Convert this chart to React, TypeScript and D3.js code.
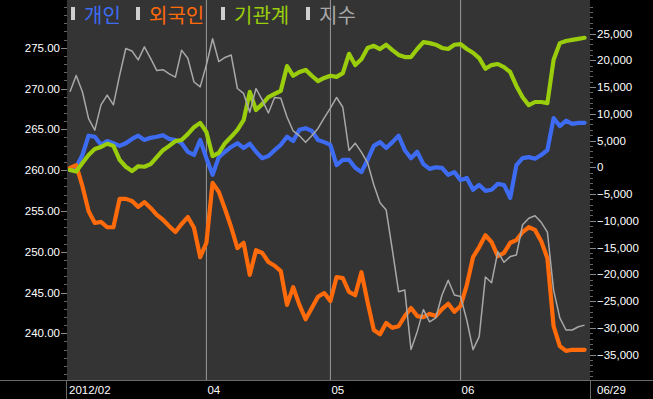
import React from "react";
import * as d3 from "d3";

// 지수 (KOSPI200) on left axis, net-buy amounts on right axis
const indexValues = [
  269.6, 271.6, 269.6, 266.3, 264.9, 268.0, 269.2, 268.0, 271.6, 274.9,
  274.6, 273.5, 275.1, 273.7, 272.2, 272.3, 271.8, 271.4, 274.7, 273.7,
  270.8, 270.2, 272.9, 276.1, 273.3, 273.8, 274.1, 270.0, 269.4, 267.1,
  270.0, 268.6, 267.0, 268.9, 268.8, 266.5, 264.8, 264.2, 263.4, 264.2,
  265.1, 266.4, 267.6, 268.9, 267.7, 262.4, 263.3, 262.2, 260.9, 258.2,
  256.0, 255.1, 250.2, 245.1, 245.3, 238.0, 240.2, 242.9, 241.4, 241.9,
  244.7, 246.5, 244.7, 244.5, 241.6, 238.0, 239.6, 246.9, 246.2, 250.0,
  248.7, 249.4, 249.6, 253.3, 254.1, 254.4, 253.6, 252.4, 245.3, 241.9,
  240.4, 240.4, 240.8, 241.0,
];

const individual = [
  -500, 0, 2300, 5900, 5700, 4200, 4900, 4500, 4000, 4500,
  5300, 5900, 5100, 5500, 5700, 6000, 5300, 5100, 4500, 2900,
  2300, 5100, 1700, -1400, 1900, 2900, 3800, 4500, 3600, 4400,
  2900, 1700, 2100, 3200, 4200, 5700, 4900, 7000, 7300, 6800,
  5100, 4700, 4200, 400, 1400, 1400, -100, -900, 1400, 4000,
  4700, 3600, 4700, 5900, 3200, 1700, 2900, 600, -300, 0,
  -100, -1400, -900, -2400, -2000, -4200, -3300, -4400, -4200, -3100,
  -3300, -5700, 400, 1700, 1900, 1600, 2300, 3200, 9200, 7700,
  8700, 8100, 8300, 8300,
];

const foreign = [
  -100, 400, -3500, -8200, -10400, -10200, -11200, -11200, -5900, -5900,
  -6300, -7400, -6500, -7600, -8900, -9800, -11000, -12100, -10600, -9300,
  -11300, -16800, -14100, -2900, -4600, -7800, -11200, -15100, -14100, -20100,
  -15500, -16000, -17700, -18400, -19400, -25700, -22400, -25700, -28400, -26300,
  -24200, -23500, -25000, -20500, -20700, -23300, -23900, -19600, -25200, -30400,
  -31200, -29100, -30000, -29700, -27800, -26300, -27800, -28000, -27400, -27800,
  -26500, -25500, -27000, -25900, -22000, -16800, -14900, -12700, -14000, -16600,
  -16000, -14100, -13600, -12100, -11200, -11700, -13800, -17000, -29700, -33400,
  -34300, -34100, -34100, -34100,
];

const institution = [
  -500, -800, 800, 2300, 3400, 3800, 4400, 4000, 1400, 100,
  -700, 200, 100, 600, 1900, 3200, 4000, 4900, 5100, 6200,
  7500, 8300, 6600, 2100, 2700, 4500, 5700, 7000, 8800, 14100,
  10700, 11800, 13100, 13700, 14300, 18900, 17100, 17800, 18200, 17100,
  16100, 16700, 17100, 16900, 17600, 21200, 19100, 20200, 22300, 22700,
  22100, 22900, 21900, 21000, 20600, 20600, 22100, 23400, 23200, 22900,
  22300, 22100, 22900, 23000, 22100, 21400, 20400, 18400, 19100, 19300,
  18700, 17800, 15200, 13100, 11600, 12200, 12200, 12000, 20100, 23200,
  23600, 23800, 24000, 24200,
];

const monthLines = [22, 42, 63];
const monthLabels = ["04", "05", "06"];
const firstLabel = "2012/02";
const lastLabel = "06/29";

const leftTicks = [240, 245, 250, 255, 260, 265, 270, 275];
const rightTicks = [25000, 20000, 15000, 10000, 5000, 0, -5000, -10000, -15000, -20000, -25000, -30000, -35000];

const legend = [
  { name: "개인", color: "#3d6cf2" },
  { name: "외국인", color: "#ff6a0a" },
  { name: "기관계", color: "#9acd0c" },
  { name: "지수", color: "#a8a8a8" },
];

const W = 653;
const H = 399;
const plot = { left: 67, right: 590, top: 0, bottom: 380 };

const App: React.FC = () => {
  const n = indexValues.length;
  const x = d3.scaleLinear().domain([0, n - 1]).range([70, 584.6]);
  const yL = d3.scaleLinear().domain([240, 275]).range([333.3, 47.7]);
  const yR = d3.scaleLinear().domain([-35000, 25000]).range([354.6, 33.5]);

  const lineR = d3.line<number>().x((_, i) => x(i)).y(d => yR(d));
  const lineL = d3.line<number>().x((_, i) => x(i)).y(d => yL(d));

  const leftMinor = d3.range(235, 281, 1).filter(v => yL(v) > 2 && yL(v) < plot.bottom - 2);
  const rightMinor = d3.range(-40000, 31000, 1000).filter(v => yR(v) > 2 && yR(v) < plot.bottom - 2);

  const font = "'Liberation Sans', Arial, sans-serif";
  const fmt = d3.format(",");

  let lx = 71;
  const legendItems = legend.map(l => {
    const item = { ...l, mx: lx, tx: lx + 13 };
    lx = lx + 13 + l.name.length * 20 + 12;
    return item;
  });

  return (
    <svg width={W} height={H} style={{ position: "absolute", left: 0, top: 0, display: "block" }}>
      <rect x={0} y={0} width={W} height={H} fill="#000" />
      <rect x={plot.left} y={plot.top} width={plot.right - plot.left} height={plot.bottom - plot.top} fill="#343434" />

      {/* month grid lines */}
      {monthLines.map(m => (
        <line key={m} x1={x(m)} x2={x(m)} y1={plot.top} y2={plot.bottom} stroke="#9a9a9a" strokeWidth={1} />
      ))}

      {/* left axis */}
      {leftMinor.map(v => (
        <line key={"lm" + v} x1={plot.left - 3} x2={plot.left} y1={Math.round(yL(v)) + 0.5} y2={Math.round(yL(v)) + 0.5} stroke="#666" />
      ))}
      {leftTicks.map(v => (
        <g key={"lt" + v}>
          <line x1={plot.left - 6} x2={plot.left} y1={Math.round(yL(v)) + 0.5} y2={Math.round(yL(v)) + 0.5} stroke="#888" />
          <text x={60} y={yL(v)} dy="0.35em" textAnchor="end" fill="#fff" fontSize={11.5} fontFamily={font}>
            {v.toFixed(2)}
          </text>
        </g>
      ))}

      {/* right axis */}
      {rightMinor.map(v => (
        <line key={"rm" + v} x1={plot.right} x2={plot.right + 3} y1={Math.round(yR(v)) + 0.5} y2={Math.round(yR(v)) + 0.5} stroke="#666" />
      ))}
      {rightTicks.map(v => (
        <g key={"rt" + v}>
          <line x1={plot.right} x2={plot.right + 6} y1={Math.round(yR(v)) + 0.5} y2={Math.round(yR(v)) + 0.5} stroke="#888" />
          <text x={597} y={yR(v)} dy="0.35em" fill="#fff" fontSize={11.5} fontFamily={font}>
            {fmt(v)}
          </text>
        </g>
      ))}

      {/* series */}
      <path d={lineR(individual) || ""} fill="none" stroke={legend[0].color} strokeWidth={4.2} strokeLinejoin="round" strokeLinecap="round" />
      <path d={lineR(foreign) || ""} fill="none" stroke={legend[1].color} strokeWidth={4.2} strokeLinejoin="round" strokeLinecap="round" />
      <path d={lineR(institution) || ""} fill="none" stroke={legend[2].color} strokeWidth={4.2} strokeLinejoin="round" strokeLinecap="round" />
      <path d={lineL(indexValues) || ""} fill="none" stroke={legend[3].color} strokeWidth={1.5} strokeLinejoin="round" />

      {/* legend */}
      {legendItems.map(l => (
        <g key={l.name}>
          <rect x={l.mx} y={7} width={4} height={13} fill="#cfcfcf" />
          <text x={l.tx} y={23} fill={l.color} fontSize={20} fontFamily="'Noto Sans CJK KR', sans-serif">
            {l.name}
          </text>
        </g>
      ))}

      {/* bottom axis strip */}
      <line x1={0} x2={W} y1={plot.bottom + 0.5} y2={plot.bottom + 0.5} stroke="#6a6a6a" />
      <line x1={plot.left - 0.5} x2={plot.left - 0.5} y1={plot.bottom} y2={H} stroke="#6a6a6a" />
      <line x1={plot.right + 0.5} x2={plot.right + 0.5} y1={plot.bottom} y2={H} stroke="#6a6a6a" />
      <text x={x(0) - 1} y={394} fill="#fff" fontSize={11.5} fontFamily={font}>{firstLabel}</text>
      {monthLines.map((m, i) => (
        <text key={"ml" + m} x={x(m) + 1} y={394} fill="#fff" fontSize={11.5} fontFamily={font}>{monthLabels[i]}</text>
      ))}
      <text x={597} y={394} fill="#fff" fontSize={11.5} fontFamily={font}>{lastLabel}</text>
    </svg>
  );
};

export default App;
